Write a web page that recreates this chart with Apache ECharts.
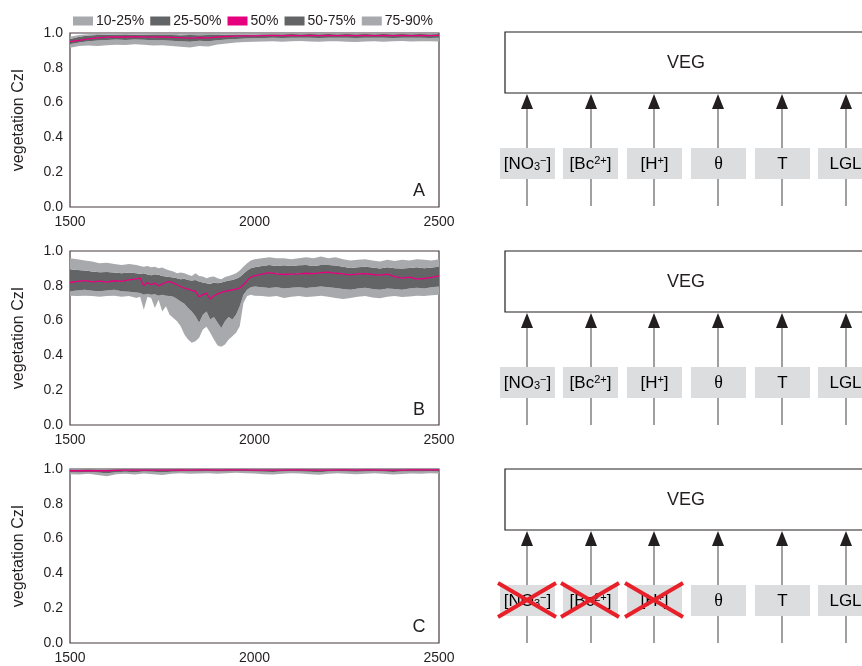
<!DOCTYPE html>
<html><head><meta charset="utf-8">
<script src="https://cdn.jsdelivr.net/npm/echarts@6/dist/echarts.min.js"></script>
<style>html,body{margin:0;padding:0;background:#fff}#c{width:862px;height:666px}</style>
</head><body><div id="c"></div>
<script>
// ---------- DATA ----------
const seriesNames = ['10-25%', '25-50%', '50%', '50-75%', '75-90%'];
const panelLetters = ['A', 'B', 'C'];
const xTicks = [1500, 2000, 2500];
const yTicks = [0.0, 0.2, 0.4, 0.6, 0.8, 1.0];
const driverLabels = ['[NO3-]', '[Bc2+]', '[H+]', 'θ', 'T', 'LGL'];

const yearsA = [1500,1525,1550,1575,1600,1625,1650,1675,1700,1725,1750,1775,1800,1825,1850,1875,1900,1925,1950,1975,2000,2025,2050,2075,2100,2125,2150,2175,2200,2225,2250,2275,2300,2325,2350,2375,2400,2425,2450,2475,2500];
const p10A = [0.915,0.925,0.928,0.925,0.930,0.933,0.931,0.935,0.932,0.928,0.930,0.925,0.921,0.916,0.926,0.922,0.934,0.940,0.945,0.948,0.950,0.951,0.953,0.950,0.952,0.954,0.951,0.949,0.952,0.953,0.950,0.948,0.951,0.953,0.950,0.952,0.954,0.951,0.952,0.953,0.951];
const p25A = [0.935,0.945,0.952,0.957,0.960,0.962,0.960,0.962,0.961,0.958,0.959,0.956,0.953,0.950,0.955,0.953,0.958,0.962,0.966,0.968,0.970,0.971,0.972,0.971,0.972,0.973,0.972,0.971,0.972,0.973,0.972,0.971,0.972,0.973,0.972,0.971,0.972,0.973,0.972,0.971,0.972];
const p50A = [0.950,0.958,0.966,0.972,0.976,0.978,0.977,0.979,0.978,0.976,0.977,0.975,0.973,0.971,0.974,0.972,0.977,0.980,0.982,0.983,0.984,0.985,0.986,0.985,0.986,0.985,0.986,0.985,0.986,0.985,0.986,0.985,0.986,0.985,0.986,0.985,0.986,0.985,0.986,0.985,0.986];
const p75A = [0.965,0.978,0.985,0.988,0.990,0.990,0.989,0.990,0.990,0.989,0.988,0.989,0.987,0.988,0.987,0.988,0.989,0.990,0.991,0.992,0.992,0.993,0.993,0.993,0.994,0.993,0.994,0.993,0.994,0.993,0.994,0.993,0.994,0.993,0.994,0.993,0.994,0.993,0.994,0.993,0.994];
const p90A = [0.978,0.988,0.993,0.994,0.995,0.996,0.994,0.995,0.996,0.995,0.994,0.995,0.993,0.994,0.995,0.994,0.996,0.995,0.996,0.997,0.996,0.997,0.996,0.997,0.996,0.997,0.996,0.997,0.996,0.997,0.996,0.997,0.996,0.997,0.996,0.997,0.996,0.997,0.996,0.997,0.996];

const yearsB = [1500,1520,1540,1560,1580,1600,1620,1640,1660,1680,1690,1700,1710,1720,1730,1740,1750,1760,1770,1780,1790,1800,1810,1820,1830,1840,1850,1860,1870,1880,1890,1900,1910,1920,1930,1940,1950,1960,1970,1980,1990,2000,2020,2040,2060,2080,2100,2120,2140,2160,2180,2200,2220,2240,2260,2280,2300,2320,2340,2360,2380,2400,2420,2440,2460,2480,2500];
const p10B = [0.743,0.741,0.743,0.741,0.737,0.741,0.743,0.737,0.741,0.730,0.737,0.663,0.737,0.730,0.672,0.720,0.653,0.682,0.634,0.615,0.596,0.568,0.520,0.491,0.472,0.482,0.501,0.549,0.564,0.530,0.491,0.457,0.450,0.463,0.491,0.510,0.530,0.568,0.701,0.741,0.749,0.743,0.741,0.737,0.741,0.730,0.737,0.741,0.735,0.739,0.743,0.737,0.730,0.724,0.730,0.737,0.741,0.733,0.728,0.737,0.741,0.735,0.739,0.743,0.741,0.745,0.749];
const p25B = [0.768,0.773,0.777,0.771,0.768,0.773,0.777,0.768,0.766,0.762,0.758,0.749,0.754,0.749,0.752,0.743,0.749,0.743,0.741,0.737,0.724,0.710,0.697,0.672,0.653,0.625,0.587,0.634,0.653,0.606,0.621,0.587,0.558,0.596,0.621,0.606,0.634,0.682,0.749,0.777,0.792,0.796,0.792,0.787,0.791,0.785,0.789,0.792,0.787,0.791,0.796,0.792,0.787,0.781,0.777,0.785,0.789,0.781,0.777,0.785,0.781,0.777,0.785,0.789,0.785,0.792,0.796];
const p50B = [0.819,0.825,0.830,0.823,0.827,0.821,0.829,0.825,0.834,0.840,0.844,0.800,0.819,0.806,0.815,0.800,0.811,0.819,0.825,0.815,0.806,0.796,0.787,0.781,0.773,0.768,0.737,0.749,0.758,0.724,0.743,0.754,0.762,0.768,0.773,0.777,0.781,0.787,0.806,0.830,0.850,0.857,0.867,0.876,0.869,0.865,0.867,0.869,0.872,0.870,0.876,0.878,0.872,0.869,0.863,0.869,0.870,0.865,0.861,0.867,0.853,0.844,0.850,0.838,0.842,0.848,0.857];
const p75B = [0.895,0.891,0.888,0.882,0.878,0.880,0.876,0.872,0.876,0.872,0.869,0.872,0.865,0.861,0.867,0.863,0.857,0.853,0.850,0.848,0.844,0.838,0.840,0.834,0.830,0.834,0.825,0.819,0.815,0.811,0.819,0.815,0.819,0.825,0.830,0.834,0.840,0.850,0.869,0.888,0.901,0.907,0.914,0.920,0.914,0.918,0.914,0.918,0.920,0.914,0.920,0.920,0.916,0.910,0.903,0.907,0.910,0.905,0.899,0.907,0.901,0.899,0.903,0.907,0.901,0.905,0.910];
const p90B = [0.958,0.952,0.945,0.939,0.930,0.933,0.926,0.920,0.926,0.920,0.914,0.910,0.914,0.907,0.910,0.901,0.905,0.895,0.888,0.882,0.872,0.876,0.872,0.863,0.857,0.872,0.857,0.853,0.844,0.850,0.853,0.844,0.838,0.850,0.857,0.863,0.872,0.888,0.910,0.930,0.945,0.952,0.958,0.964,0.958,0.958,0.952,0.958,0.964,0.958,0.968,0.958,0.964,0.952,0.945,0.949,0.952,0.945,0.939,0.949,0.943,0.949,0.945,0.952,0.949,0.945,0.952];

const yearsC = [1500,1525,1550,1575,1600,1625,1650,1675,1700,1725,1750,1775,1800,1825,1850,1875,1900,1925,1950,1975,2000,2025,2050,2075,2100,2125,2150,2175,2200,2225,2250,2275,2300,2325,2350,2375,2400,2425,2450,2475,2500];
const p10C = [0.970,0.968,0.972,0.966,0.958,0.970,0.972,0.968,0.974,0.970,0.966,0.972,0.975,0.972,0.974,0.976,0.972,0.975,0.978,0.976,0.974,0.970,0.968,0.972,0.976,0.974,0.970,0.967,0.972,0.975,0.972,0.970,0.973,0.976,0.972,0.968,0.971,0.974,0.972,0.975,0.974];
const p25C = [0.982,0.980,0.983,0.980,0.976,0.982,0.984,0.982,0.985,0.984,0.981,0.984,0.986,0.985,0.986,0.987,0.985,0.986,0.988,0.987,0.986,0.984,0.983,0.985,0.987,0.986,0.984,0.982,0.985,0.987,0.985,0.984,0.986,0.987,0.985,0.983,0.985,0.986,0.985,0.987,0.986];
const p50C = [0.990,0.990,0.991,0.990,0.990,0.992,0.993,0.993,0.994,0.994,0.993,0.994,0.995,0.994,0.995,0.995,0.994,0.995,0.995,0.995,0.994,0.993,0.993,0.994,0.995,0.995,0.994,0.993,0.994,0.995,0.995,0.994,0.995,0.995,0.994,0.994,0.994,0.995,0.995,0.995,0.995];
const p75C = [0.997,0.997,0.998,0.997,0.997,0.998,0.998,0.998,0.998,0.998,0.998,0.998,0.998,0.998,0.998,0.998,0.998,0.998,0.998,0.998,0.998,0.998,0.998,0.998,0.998,0.998,0.998,0.998,0.998,0.998,0.998,0.998,0.998,0.998,0.998,0.998,0.998,0.998,0.998,0.998,0.998];
const p90C = [1.000,1.000,1.000,1.000,1.000,1.000,1.000,1.000,1.000,1.000,1.000,1.000,1.000,1.000,1.000,1.000,1.000,1.000,1.000,1.000,1.000,1.000,1.000,1.000,1.000,1.000,1.000,1.000,1.000,1.000,1.000,1.000,1.000,1.000,1.000,1.000,1.000,1.000,1.000,1.000,1.000];

// ---------- STYLE / LAYOUT ----------
const FONT = '"Liberation Sans", Arial, Helvetica, sans-serif';
const INK = '#231f20';
const LIGHT = '#a7a9ac';
const DARK = '#636466';
const MAGENTA = '#e6007e';
const panels = [
  {years: yearsA, p: [p10A, p25A, p50A, p75A, p90A], top: 33, dy: 0},
  {years: yearsB, p: [p10B, p25B, p50B, p75B, p90B], top: 251, dy: 219},
  {years: yearsC, p: [p10C, p25C, p50C, p75C, p90C], top: 469, dy: 437}
];

function band(name, color, years, lo, hi, gi) {
  return {
    type: 'custom', name: name, xAxisIndex: gi, yAxisIndex: gi,
    itemStyle: {color: color}, silent: true, clip: true,
    data: [[years[0], lo[0]]],
    renderItem: function (params, api) {
      const pts = [];
      for (let i = 0; i < years.length; i++) pts.push(api.coord([years[i], hi[i]]));
      for (let i = years.length - 1; i >= 0; i--) pts.push(api.coord([years[i], lo[i]]));
      return {type: 'polygon', shape: {points: pts}, style: {fill: color}};
    }
  };
}

const grids = [], xAxes = [], yAxes = [], series = [];
panels.forEach(function (pn, gi) {
  grids.push({left: 70, width: 369, top: pn.top, height: 174, show: true,
    borderColor: '#463a43', borderWidth: 1.2, backgroundColor: 'transparent'});
  xAxes.push({type: 'value', gridIndex: gi, min: xTicks[0], max: xTicks[2], interval: xTicks[1] - xTicks[0],
    axisLine: {show: false}, axisTick: {show: false}, splitLine: {show: false},
    axisLabel: {color: INK, fontFamily: FONT, fontSize: 14, margin: 8,
      formatter: function (v) { return String(v); }}});
  yAxes.push({type: 'value', gridIndex: gi, min: yTicks[0], max: yTicks[5], interval: 0.2,
    name: 'vegetation CzI', nameLocation: 'middle', nameGap: 43,
    nameTextStyle: {color: INK, fontFamily: FONT, fontSize: 16},
    axisLine: {show: false}, axisTick: {show: false}, splitLine: {show: false},
    axisLabel: {color: INK, fontFamily: FONT, fontSize: 14, margin: 7,
      formatter: function (v) { return v.toFixed(1); }}});
  const p = pn.p;
  series.push(band(seriesNames[0], LIGHT, pn.years, p[0], p[1], gi));
  series.push(band(seriesNames[1], DARK, pn.years, p[1], p[2], gi));
  series.push(band(seriesNames[3], DARK, pn.years, p[2], p[3], gi));
  series.push(band(seriesNames[4], LIGHT, pn.years, p[3], p[4], gi));
  series.push({type: 'line', name: seriesNames[2], xAxisIndex: gi, yAxisIndex: gi,
    data: pn.years.map(function (y, i) { return [y, p[2][i]]; }),
    showSymbol: false, symbol: 'none', color: MAGENTA,
    lineStyle: {color: MAGENTA, width: 1.3}, silent: true, z: 5});
});

// ---------- DIAGRAMS (graphic) ----------
const arrowX = [527, 591, 654, 718, 782, 846];
const boxX = [500, 563, 627, 691, 755, 818];
const boxW = [55, 55, 55, 55, 55, 60];
const rich = {
  b: {fontSize: 17, fontFamily: FONT, color: INK},
  sub: {fontSize: 11, fontFamily: FONT, color: INK, verticalAlign: 'bottom', lineHeight: 14},
  sup: {fontSize: 11, fontFamily: FONT, color: INK, verticalAlign: 'top', lineHeight: 14},
  th: {fontSize: 18, fontFamily: '"Liberation Serif", "DejaVu Serif", serif', color: INK}
};
const labelRich = ['{b|[NO}{sub|3}{sup|−}{b|]}', '{b|[Bc}{sup|2+}{b|]}', '{b|[H}{sup|+}{b|]}', '{th|θ}', '{b|T}', '{b|LGL}'];
const graphics = [];
panels.forEach(function (pn, gi) {
  const dy = pn.dy;
  arrowX.forEach(function (ax) {
    graphics.push({type: 'line', shape: {x1: ax, y1: 206 + dy, x2: ax, y2: 106 + dy},
      style: {stroke: '#6d6e71', lineWidth: 1.3}, z: 1});
    graphics.push({type: 'polygon', shape: {points: [[ax, 94 + dy], [ax - 6, 109 + dy], [ax + 6, 109 + dy]]},
      style: {fill: INK}, z: 2});
  });
  graphics.push({type: 'rect', shape: {x: 505, y: 32 + dy, width: 400, height: 61},
    style: {fill: '#fff', stroke: INK, lineWidth: 1.2}, z: 3});
  graphics.push({type: 'text', x: 686, y: 63 + dy, style: {text: 'VEG', font: '18px ' + FONT,
    fill: INK, align: 'center', verticalAlign: 'middle'}, z: 4});
  boxX.forEach(function (bx, i) {
    graphics.push({type: 'rect', shape: {x: bx, y: 148 + dy, width: boxW[i], height: 31},
      style: {fill: '#dcddde'}, z: 3});
    graphics.push({type: 'text', x: bx + 27.5, y: 164 + dy, style: {text: labelRich[i], rich: rich,
      align: 'center', verticalAlign: 'middle'}, z: 4});
  });
  if (gi === 2) {
    for (let i = 0; i < 3; i++) {
      const bx = boxX[i];
      graphics.push({type: 'line', shape: {x1: bx - 2, y1: 583 , x2: bx + boxW[i] + 1, y2: 617},
        style: {stroke: '#e8202a', lineWidth: 4}, z: 6});
      graphics.push({type: 'line', shape: {x1: bx - 2, y1: 617, x2: bx + boxW[i] + 1, y2: 583},
        style: {stroke: '#e8202a', lineWidth: 4}, z: 6});
    }
  }
});
panelLetters.forEach(function (L, gi) {
  graphics.push({type: 'text', x: 419, y: 191 + panels[gi].dy - (gi === 2 ? 1 : 0), style: {text: L, font: '18px ' + FONT,
    fill: INK, align: 'center', verticalAlign: 'middle'}, z: 10});
});

const chart = echarts.init(document.getElementById('c'), null, {renderer: 'canvas'});
chart.setOption({
  animation: false,
  backgroundColor: '#fff',
  textStyle: {fontFamily: FONT},
  legend: {left: 68, top: 9, itemWidth: 20, itemHeight: 9, itemGap: 6, icon: 'rect',
    data: seriesNames, textStyle: {color: INK, fontFamily: FONT, fontSize: 14, padding: [0, 0, 0, -2]},
    selectedMode: false},
  grid: grids, xAxis: xAxes, yAxis: yAxes, series: series,
  graphic: graphics
});
</script></body></html>
